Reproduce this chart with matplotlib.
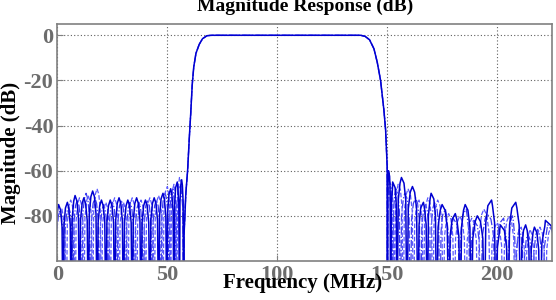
import numpy as np
import matplotlib
matplotlib.use("Agg")
import matplotlib.pyplot as plt

plt.rcParams['font.family'] = ['Liberation Serif', 'DejaVu Serif']
plt.rcParams['font.weight'] = 'bold'
plt.rcParams['axes.unicode_minus'] = False

# passband / transition band, shared by all three responses (MHz, dB)
main_f = [57.6, 58.4, 59.2, 60.0, 60.6, 61.3, 62.0, 63.0, 64.5, 66.0, 68.0, 70.0,
          138.0, 140.0, 142.0, 144.0, 145.5, 147.0, 148.5, 149.3, 150.0]
main_db = [-88, -70, -60, -45, -35, -22, -14, -8, -4, -1.5, -0.2, 0,
           0, -0.5, -2, -6, -12, -20, -33, -42, -58]

# stopband sidelobe peaks
solid_left_f = [0.5, 4.5, 8, 12, 16, 20, 24, 28, 32, 36, 40, 44, 48, 51.5, 54.5, 56.5]
solid_left_db = [-75, -74, -71, -72, -69, -73, -73, -72, -73, -72, -73, -72, -70, -68, -65, -64]
solid_right_f = [150.6, 152.5, 156.5, 161.5, 166.5, 170, 175, 181, 185.5, 191, 197.5,
                 201.5, 208.5, 213, 217, 222]
solid_right_db = [-60, -65, -63, -67, -74, -70, -75, -79, -75, -80, -73,
                  -84, -74, -84, -85, -82]

dash_left_f = [2, 6, 10, 14, 18, 22, 26, 30, 34, 38, 42, 46, 50, 53, 55.5]
dash_left_db = [-77, -73, -72, -71, -68, -74, -72, -74, -72, -73, -72, -71, -67, -66, -63]
dash_right_f = [151.5, 155, 159.5, 164.5, 168.5, 173, 178, 183, 188.5, 194, 200,
                205.5, 211, 215, 219.5, 224.5]
dash_right_db = [-67, -66, -68, -73, -72, -73, -79, -80, -81, -77, -83,
                 -80, -85, -86, -85, -85]

dd_left_f = [1, 5, 9, 13, 17, 21, 25, 29, 33, 37, 41, 45, 49, 52.5, 55]
dd_left_db = [-78, -76, -73, -70, -72, -75, -74, -73, -74, -74, -73, -73, -70, -68, -66]
dd_right_f = [150.8, 154, 158, 163, 167.5, 171.5, 176.5, 180, 186, 189.5, 195.5,
              203, 207, 210, 214, 218.5, 223]
dd_right_db = [-64, -68, -70, -72, -75, -74, -77, -81, -77, -82, -79,
               -81, -80, -86, -88, -86, -84]

null_db = -130


def lobes(pk_f, pk_db, start, stop):
    # sidelobes between deep nulls, with a rounded top
    f, d = [], []
    edges = [start] + [(a + b) / 2 for a, b in zip(pk_f[:-1], pk_f[1:])] + [stop]
    for i in range(len(pk_f)):
        lo, hi = edges[i], edges[i + 1]
        w = hi - lo
        f += [lo, lo + 0.12 * w, lo + 0.3 * w, pk_f[i], hi - 0.3 * w, hi - 0.12 * w]
        d += [null_db, pk_db[i] - 10, pk_db[i] - 2.5, pk_db[i], pk_db[i] - 2.5, pk_db[i] - 10]
    f.append(stop)
    d.append(null_db)
    return f, d


def response(lf, ld, rf, rd):
    f1, d1 = lobes(lf, ld, -1.0, 57.4)
    f2, d2 = lobes(rf, rd, 150.1, 227)
    return f1 + main_f + f2, d1 + main_db + d2


fig = plt.figure(figsize=(5.56, 3.0), dpi=100)
ax = fig.add_axes([0.1034, 0.13, 0.8894, 0.79])

f, d = response(dd_left_f, dd_left_db, dd_right_f, dd_right_db)
ax.plot(f, d, color='#3c3cf0', lw=0.9, ls='-.')
f, d = response(dash_left_f, dash_left_db, dash_right_f, dash_right_db)
ax.plot(f, d, color='#5a5aff', lw=0.9, ls='--')
f, d = response(solid_left_f, solid_left_db, solid_right_f, solid_right_db)
ax.plot(f, d, color='#0000d0', lw=1.1)

ax.set_xlim(0, 225)
ax.set_ylim(-100, 5)
ax.set_xticks([0, 50, 100, 150, 200])
ax.set_yticks([0, -20, -40, -60, -80])
ax.grid(True, color='#606060', ls=(0, (1, 2)), lw=0.8)
for s in ax.spines.values():
    s.set_color('#808080')
    s.set_linewidth(1.2)
ax.tick_params(direction='in', length=4, color='#808080', labelcolor='#6c6c6c',
               labelsize=16, pad=3)
for t in ax.get_xticklabels() + ax.get_yticklabels():
    t.set_fontweight('bold')

fig.text(0.548, 0.963, 'Magnitude Response (dB)', ha='center', va='baseline',
         fontsize=14, fontweight='bold')
fig.text(0.545, 0.04, 'Frequency (MHz)', ha='center', va='baseline',
         fontsize=15, fontweight='bold')
fig.text(0.02, 0.49, 'Magnitude (dB)', ha='center', va='center', rotation=90,
         fontsize=15, fontweight='bold')

fig.savefig('out.png', dpi=100)
